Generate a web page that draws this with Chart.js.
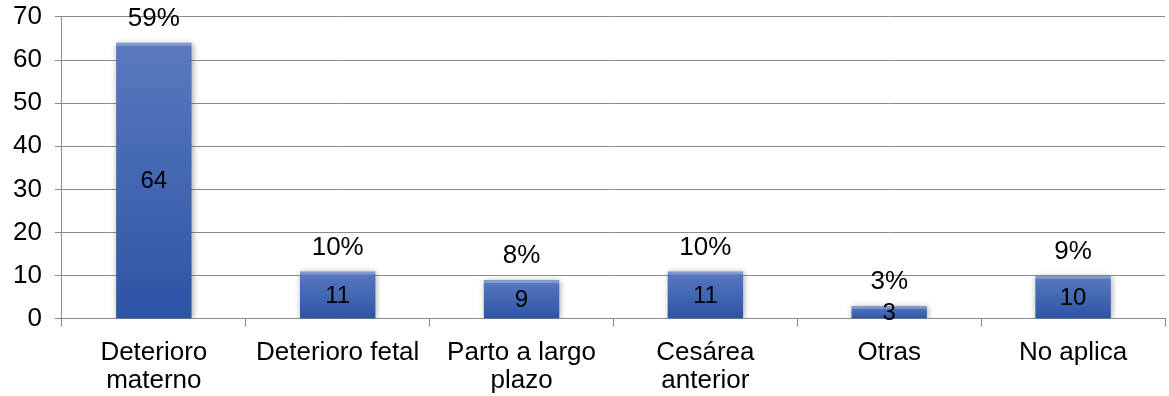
<!DOCTYPE html>
<html>
<head>
<meta charset="utf-8">
<script src="https://cdn.jsdelivr.net/npm/chart.js@4"></script>
<style>
  html, body { margin: 0; padding: 0; background: #fff; }
  #wrap { width: 1169px; height: 396px; }
</style>
</head>
<body>
<div id="wrap"><canvas id="myChart"></canvas></div>
<script>
// data
const categories = [['Deterioro', 'materno'], 'Deterioro fetal', ['Parto a largo', 'plazo'], ['Cesárea', 'anterior'], 'Otras', 'No aplica'];
const values = [64, 11, 9, 11, 3, 10];
const percents = ['59%', '10%', '8%', '10%', '3%', '9%'];
const yTicks = [0, 10, 20, 30, 40, 50, 60, 70];

const fontFamily = '"Liberation Sans", Arial, sans-serif';

// each bar gets its own gradient, lighter at the top
function barFill(context) {
  const chart = context.chart;
  const y = chart.scales.y;
  if (!chart.chartArea || !y || context.type !== 'data') return '#3a5fae';
  const top = y.getPixelForValue(values[context.dataIndex]);
  const base = y.getPixelForValue(0);
  const g = chart.ctx.createLinearGradient(0, top, 0, base);
  g.addColorStop(0, '#5a79bf');
  g.addColorStop(1, '#2c54a5');
  return g;
}

// soft shadow behind the bars
const barShadow = {
  id: 'barShadow',
  beforeDatasetDraw(chart) {
    const ctx = chart.ctx;
    ctx.save();
    ctx.shadowColor = 'rgba(0,0,0,0.35)';
    ctx.shadowBlur = 6;
    ctx.shadowOffsetX = 1;
    ctx.shadowOffsetY = 1;
  },
  afterDatasetDraw(chart) {
    chart.ctx.restore();
  }
};

// light top edge, value inside bar, percentage above bar
const barLabels = {
  id: 'barLabels',
  afterDatasetsDraw(chart) {
    const ctx = chart.ctx;
    const meta = chart.getDatasetMeta(0);
    const yScale = chart.scales.y;
    ctx.save();
    meta.data.forEach((bar) => {
      const w = bar.width;
      ctx.fillStyle = 'rgba(255,255,255,0.25)';
      ctx.fillRect(bar.x - w / 2, bar.y, w, 3);
    });
    ctx.fillStyle = '#000';
    ctx.textAlign = 'center';
    ctx.textBaseline = 'middle';
    meta.data.forEach((bar, i) => {
      const top = yScale.getPixelForValue(values[i]);
      const base = yScale.getPixelForValue(0);
      ctx.font = '24px ' + fontFamily;
      ctx.fillText(String(values[i]), bar.x, (top + base) / 2 + 1);
      ctx.font = '26px ' + fontFamily;
      ctx.fillText(percents[i], bar.x, top - 24);
    });
    ctx.restore();
  }
};

const ctx = document.getElementById('myChart');

new Chart(ctx, {
  type: 'bar',
  data: {
    labels: categories,
    datasets: [{
      data: values,
      backgroundColor: barFill,
      borderWidth: 0,
      barPercentage: 0.41,
      categoryPercentage: 1
    }]
  },
  options: {
    responsive: true,
    maintainAspectRatio: false,
    animation: false,
    layout: { padding: { top: 0, right: 4, left: 0, bottom: -11 } },
    plugins: {
      legend: { display: false },
      tooltip: { enabled: false }
    },
    scales: {
      x: {
        offset: true,
        grid: {
          offset: true,
          drawOnChartArea: false,
          color: '#8c8c8c',
          tickLength: 8
        },
        border: { color: '#8c8c8c', width: 1 },
        ticks: {
          color: '#000',
          font: { family: fontFamily, size: 26, lineHeight: 1.08 },
          maxRotation: 0,
          autoSkip: false,
          padding: 12
        }
      },
      y: {
        min: 0,
        max: 70,
        afterBuildTicks(scale) {
          scale.ticks = yTicks.map(v => ({ value: v }));
        },
        grid: {
          color: '#8c8c8c',
          tickLength: 7
        },
        border: { color: '#8c8c8c', width: 1 },
        ticks: {
          color: '#000',
          font: { family: fontFamily, size: 26, lineHeight: 0.3 },
          padding: 13
        }
      }
    }
  },
  plugins: [barShadow, barLabels]
});
</script>
</body>
</html>
